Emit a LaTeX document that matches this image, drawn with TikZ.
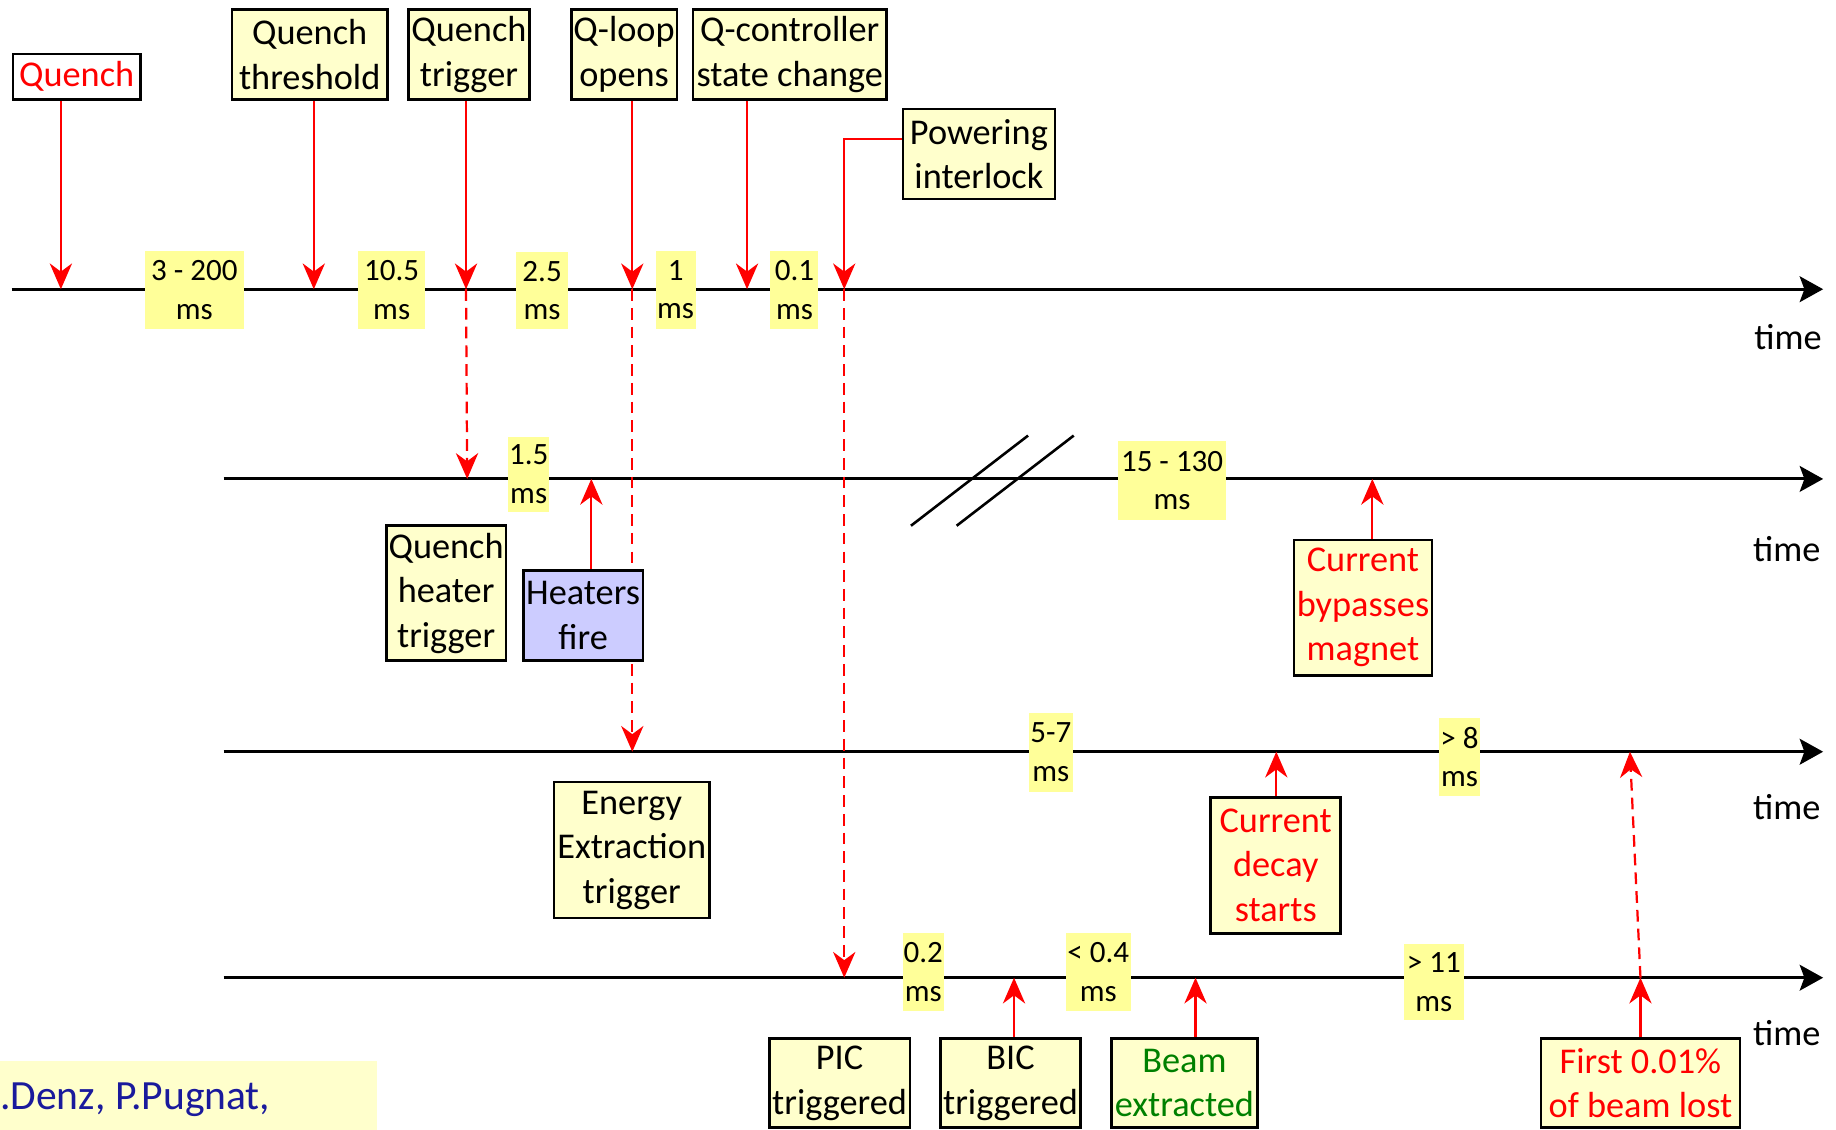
\documentclass[tikz,border=0pt]{standalone}
\usepackage{fontspec}
\setmainfont{Carlito}
\usetikzlibrary{arrows.meta}
\definecolor{boxy}{HTML}{FFFFCC}
\definecolor{laby}{HTML}{FFFF99}
\definecolor{heatb}{HTML}{CCCCFF}
\definecolor{ared}{HTML}{FF0000}
\definecolor{agreen}{HTML}{008000}
\definecolor{anavy}{HTML}{1A1A9C}
\begin{document}
\begin{tikzpicture}[x=1pt,y=-1pt,
 evbox/.style={draw=black, line width=2.2pt, fill=boxy, inner sep=0pt, align=center, font=\fontsize{31}{38}\selectfont},
 durlab/.style={fill=laby, inner sep=0pt, align=center, font=\fontsize{26.5}{33}\selectfont},
 tline/.style={line width=2.5pt, -{Stealth[length=20pt,width=22pt,inset=4pt]}},
 redarr/.style={draw=ared, line width=1.9pt, -{Stealth[length=22pt,width=19pt,inset=7pt]}},
 reddash/.style={redarr, dash pattern=on 10pt off 6pt},
 timelab/.style={font=\fontsize{31}{38}\selectfont, inner sep=0pt}]
\useasboundingbox (0,0) rectangle (1568,965);

% timelines
\coordinate (T1s) at (10,247);  \coordinate (T1e) at (1557,247);
\coordinate (T2s) at (191,409); \coordinate (T2e) at (1557,409);
\coordinate (T3s) at (191,642); \coordinate (T3e) at (1557,642);
\coordinate (T4s) at (191,835); \coordinate (T4e) at (1557,835);
\draw[tline] (T1s) -- (T1e);
\draw[tline] (T2s) -- (T2e);
\draw[tline] (T3s) -- (T3e);
\draw[tline] (T4s) -- (T4e);
\node[timelab] (tl1) at (1527,288) {time};
\node[timelab] (tl2) at (1526,469) {time};
\node[timelab] (tl3) at (1526,689) {time};
\node[timelab] (tl4) at (1526,882) {time};

% break marks
\draw[line width=2.2pt] (778,449) -- (878,372);
\draw[line width=2.2pt] (817,449) -- (917,372);

% arrow end points
\coordinate (a1) at (52,247);
\coordinate (a2) at (268,247);
\coordinate (a3) at (398,247);
\coordinate (a4) at (540,247);
\coordinate (a5) at (638,247);
\coordinate (a6) at (721,247);
\coordinate (b3) at (399,409);
\coordinate (b5) at (505,409);
\coordinate (b8) at (1172,409);
\coordinate (c4) at (540,642);
\coordinate (c9) at (1090,642);
\coordinate (c10) at (1392,642);
\coordinate (d6) at (721,835);
\coordinate (d7) at (866,835);
\coordinate (d8) at (1021,835);
\coordinate (d9) at (1401,835);

% dashed propagation (drawn beneath boxes)
\draw[reddash] (a3) -- (b3);
\draw[reddash] (a4) -- (c4);
\draw[reddash] (a6) -- (d6);
\draw[reddash] (d9) -- (c10);

% event boxes
\node[evbox, fill=white, text=ared, minimum width=109pt, minimum height=39pt] (quench) at (65.5,65.5) {Quench};
\node[evbox, minimum width=133pt, minimum height=77pt] (qthr) at (264.5,46.5) {Quench\\threshold};
\node[evbox, minimum width=103pt, minimum height=77pt] (qtrig) at (400.5,46.5) {Quench\\trigger};
\node[evbox, minimum width=90pt, minimum height=77pt] (qloop) at (533,46.5) {Q-loop\\opens};
\node[evbox, minimum width=165pt, minimum height=77pt] (qctrl) at (674.5,46.5) {Q-controller\\state change};
\node[evbox, minimum width=130pt, minimum height=77pt] (pow) at (836,131.5) {Powering\\interlock};

\node[evbox, minimum width=102pt, minimum height=115pt] (qht) at (381,506.5) {Quench\\heater\\trigger};
\node[evbox, fill=heatb, minimum width=102pt, minimum height=77pt] (hf) at (498,525.5) {Heaters\\fire};
\node[evbox, text=ared, minimum width=118pt, minimum height=116pt] (cbm) at (1164,519) {Current\\bypasses\\magnet};

\node[evbox, minimum width=133pt, minimum height=116pt] (eet) at (539.5,726) {Energy\\Extraction\\trigger};
\node[evbox, text=ared, minimum width=111pt, minimum height=116pt] (cds) at (1089.5,739) {Current\\decay\\starts};

\node[evbox, minimum width=120pt, minimum height=76pt] (pic) at (717,925) {PIC\\triggered};
\node[evbox, minimum width=120pt, minimum height=76pt] (bic) at (863,925) {BIC\\triggered};
\node[evbox, text=agreen, minimum width=125pt, minimum height=76pt] (beam) at (1011.5,925) {Beam\\extracted};
\node[evbox, text=ared, minimum width=170pt, minimum height=76pt] (lost) at (1401,925) {First 0.01\%\\of beam lost};

% solid arrows
\draw[redarr] (quench.south -| a1) -- (a1);
\draw[redarr] (qthr.south -| a2) -- (a2);
\draw[redarr] (qtrig.south -| a3) -- (a3);
\draw[redarr] (qloop.south -| a4) -- (a4);
\draw[redarr] (qctrl.south -| a5) -- (a5);
\draw[redarr] ([yshift=12.5pt]pow.west) -| (a6);
\draw[redarr] (hf.north -| b5) -- (b5);
\draw[redarr] (cbm.north -| b8) -- (b8);
\draw[redarr] (cds.north -| c9) -- (c9);
\draw[redarr] (bic.north -| d7) -- (d7);
\draw[redarr] (beam.north -| d8) -- (d8);
\draw[redarr] (lost.north -| d9) -- (d9);

% duration labels
\node[durlab, minimum width=84pt, minimum height=67pt] (d1l) at (166,247.5) {3 - 200\\ms};
\node[durlab, minimum width=57pt, minimum height=67pt] (d2l) at (334.5,247.5) {10.5\\ms};
\node[durlab, minimum width=44pt, minimum height=66pt] (d3l) at (463,248) {2.5\\ms};
\node[durlab, minimum width=34pt, minimum height=67pt] (d4l) at (577,247.5) {1\\ms};
\node[durlab, minimum width=41pt, minimum height=67pt] (d5l) at (678.5,247.5) {0.1\\ms};
\node[durlab, minimum width=35pt, minimum height=64pt] (d6l) at (451.5,405) {1.5\\ms};
\node[durlab, minimum width=92pt, minimum height=67pt] (d7l) at (1001,410.5) {15 - 130\\ms};
\node[durlab, minimum width=37pt, minimum height=67pt] (d8l) at (897.5,642.5) {5-7\\ms};
\node[durlab, minimum width=35pt, minimum height=67pt] (d9l) at (1246.5,646.5) {> 8\\ms};
\node[durlab, minimum width=35pt, minimum height=66pt] (d10l) at (788.5,830) {0.2\\ms};
\node[durlab, minimum width=56pt, minimum height=66pt] (d11l) at (938,830) {< 0.4\\ms};
\node[durlab, minimum width=51pt, minimum height=65pt] (d12l) at (1224.5,838.5) {> 11\\ms};

% author strip
\fill[boxy] (0,906) rectangle (322,965);
\node[anchor=west, text=anavy, inner sep=0pt, font=\fontsize{35.5}{42}\selectfont] (auth) at (0,939) {.Denz, P.Pugnat,};
\end{tikzpicture}
\end{document}
